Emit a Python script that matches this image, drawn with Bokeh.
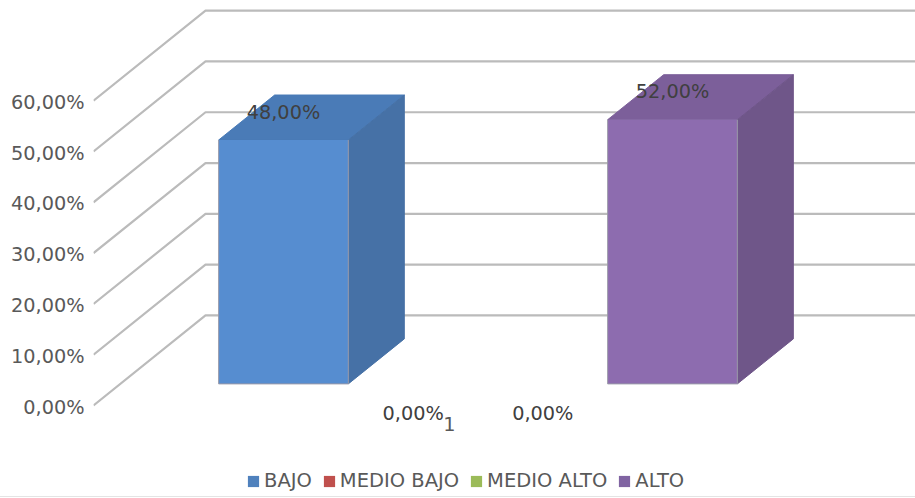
from bokeh.plotting import figure
from bokeh.core.properties import value
from bokeh.models import ColumnDataSource, LabelSet, Legend, LegendItem, FixedTicker, Range1d
from bokeh.embed import file_html
from bokeh.resources import INLINE

series = ["BAJO", "MEDIO BAJO", "MEDIO ALTO", "ALTO"]
values = [48.0, 0.0, 0.0, 52.0]
value_labels = ["48,00%", "0,00%", "0,00%", "52,00%"]
front_colors = ["#568DD0", "#C0504D", "#9BBB59", "#8D6CAF"]
top_colors = ["#4A7BB7", "#A84643", "#88A44E", "#7C5F9A"]
side_colors = ["#4671A6", "#9A403D", "#7C9647", "#6F5689"]
legend_colors = ["#4F81BD", "#C0504D", "#9BBB59", "#8064A2"]
y_ticks = [0, 10, 20, 30, 40, 50, 60]
y_tick_labels = ["0,00%", "10,00%", "20,00%", "30,00%", "40,00%", "50,00%", "60,00%"]
category_pos = 1.28
category_label = "1"

WALL_X = 0.8637      # depth of the chart box, in category units
WALL_Y = 17.72       # depth of the chart box, in value units
FRONT = 0.24         # depth fraction of a bar's front face
BAR_D = 0.5          # depth fraction taken by a bar
HALF = 0.5           # half width of a bar
X0, X1 = -1.465, 4.874
Y0, Y1 = -18.11, 79.72
LABEL_SHIFT = 0.3    # nudges the value axis labels down against the walls
FONT = "DejaVu Sans"
SIZE = "19.3px"

p = figure(width=915, height=497, output_backend="svg", toolbar_location=None,
           x_range=Range1d(X0, X1), y_range=Range1d(Y0, Y1),
           min_border_left=93, min_border_right=0, min_border_top=0, min_border_bottom=0,
           outline_line_color=None, background_fill_color="white",
           styles={"border-bottom": "1px solid #E4E4E4"})
p.extra_y_ranges = {"labels": Range1d(Y0 + LABEL_SHIFT, Y1 + LABEL_SHIFT)}
p.grid.visible = False

# walls
wall_xs, wall_ys = [], []
for t in y_ticks:
    wall_xs.append([X0, X0 + WALL_X, X1])
    wall_ys.append([t, t + WALL_Y, t + WALL_Y])
p.multi_line(wall_xs, wall_ys, line_color="#BBBBBB", line_width=2.2)

# bars
dy0 = WALL_Y * FRONT
dy = WALL_Y * BAR_D
dx = WALL_X * BAR_D
for i, v in enumerate(values):
    if v <= 0:
        continue
    l, r = i - HALF, i + HALF
    b, t = dy0, dy0 + v
    p.patch([l, r, r + dx, l + dx], [t, t, t + dy, t + dy],
            fill_color=top_colors[i], line_color=top_colors[i], line_width=1)
    p.patch([r, r + dx, r + dx, r], [b, b + dy, t + dy, t],
            fill_color=side_colors[i], line_color=side_colors[i], line_width=1)
    p.quad(left=[l], right=[r], bottom=[b], top=[t],
           fill_color=front_colors[i], line_color=None)
    p.line([l, l, r, r], [t, b, b, t], line_color="#9A9AA8", line_width=1)

# legend: one zero-size quad per series carries its swatch
items = []
for name, col in zip(series, legend_colors):
    r = p.quad(left=[0], right=[0], bottom=[0], top=[0], fill_color=col, line_color=None)
    items.append(LegendItem(label=name, renderers=[r]))
legend = Legend(items=items, orientation="horizontal", location=(153, 5),
                glyph_width=14, glyph_height=14, label_standoff=4, spacing=10,
                padding=0, margin=0, border_line_color=None, background_fill_alpha=0,
                label_text_font=FONT, label_text_font_size="19.5px",
                label_text_color="#595959", label_height=20)
p.add_layout(legend, "center")

# data labels: above the bar when it has height, below the floor when it has none
src = ColumnDataSource(dict(x=list(range(len(values))),
                            y=[v + dy0 for v in values], text=value_labels,
                            off=[28 if v > 0 else -30 for v in values]))
p.add_layout(LabelSet(x="x", y="y", text="text", source=src, y_offset="off",
                      text_align="center", text_baseline="middle",
                      text_font=value(FONT), text_font_size=value(SIZE), text_color="#404040"))

# axes
ya = p.yaxis[0]
ya.y_range_name = "labels"
ya.ticker = FixedTicker(ticks=y_ticks)
ya.major_label_overrides = dict(zip(y_ticks, y_tick_labels))
ya.axis_line_color = None
ya.major_tick_line_color = None
ya.minor_tick_line_color = None
ya.major_label_standoff = 3
ya.major_label_text_font = FONT
ya.major_label_text_font_size = SIZE
ya.major_label_text_color = "#595959"

xa = p.xaxis[0]
xa.fixed_location = -1.18
xa.ticker = FixedTicker(ticks=[category_pos])
xa.major_label_overrides = {category_pos: category_label}
xa.axis_line_color = None
xa.major_tick_line_color = None
xa.minor_tick_line_color = None
xa.major_label_standoff = 0
xa.major_label_text_font = FONT
xa.major_label_text_font_size = SIZE
xa.major_label_text_color = "#595959"

open("out.html", "w").write(file_html(p, INLINE))
